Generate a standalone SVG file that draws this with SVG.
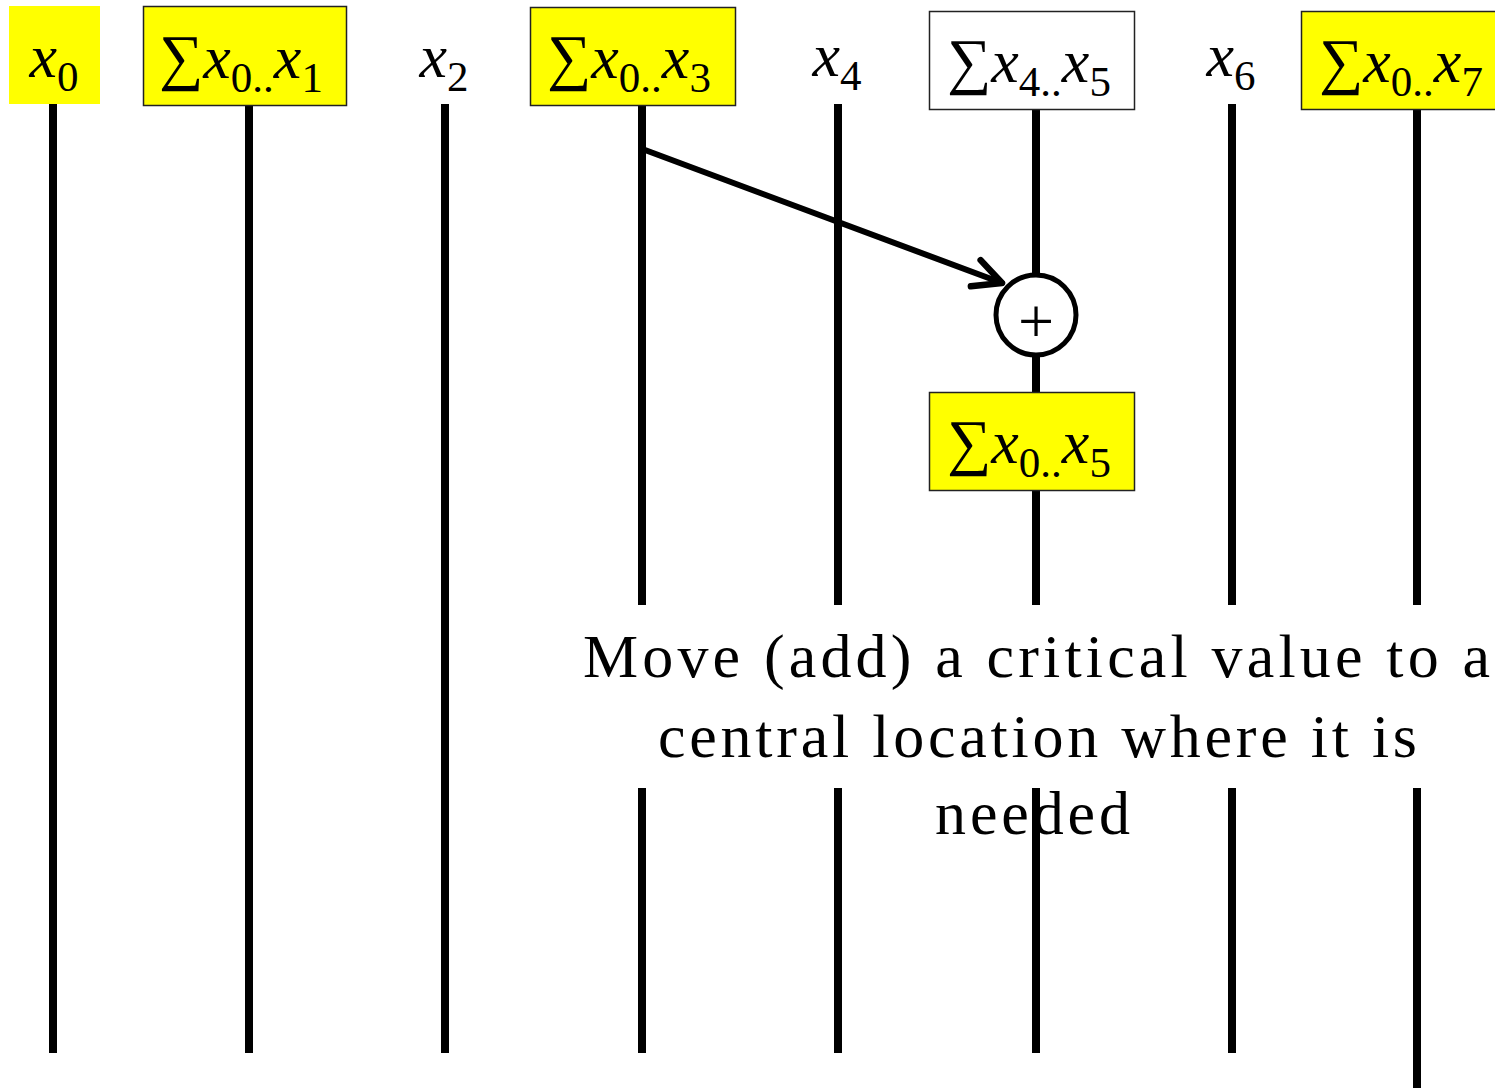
<svg xmlns="http://www.w3.org/2000/svg" width="1495" height="1088" viewBox="0 0 1495 1088">
<style>
.bg{fill:#ffffff}
.lane{stroke:#000;stroke-width:8;fill:none}
.box{fill:#ffff00;stroke:#222;stroke-width:1.5}
.wbox{fill:#ffffff;stroke:#222;stroke-width:1.5}
.lbl{font-family:"Liberation Serif","Times New Roman",serif;font-size:62px;fill:#000}
.v{font-style:italic;font-family:"Liberation Serif","Times New Roman",serif}
.s{font-size:43px;font-family:"Liberation Serif","Times New Roman",serif}
.note{font-family:"Liberation Serif","Times New Roman",serif;font-size:62px;fill:#000}
.conn{stroke:#000;stroke-width:6;fill:none;stroke-linecap:round}
</style>
<defs>
<marker id="open" markerUnits="userSpaceOnUse" viewBox="-34 -20 40 40" refX="0" refY="0" markerWidth="40" markerHeight="40" orient="auto">
<path d="M -28 -14 L 0 0 L -28 14" fill="none" stroke="#000" stroke-width="6.5" stroke-linecap="round" stroke-linejoin="round"/>
</marker>
</defs>
<rect class="bg" x="0" y="0" width="1495" height="1088"/>

<g id="lanes">
<line class="lane" x1="53" y1="104" x2="53" y2="1053"/>
<line class="lane" x1="249" y1="105" x2="249" y2="1053"/>
<line class="lane" x1="445" y1="104" x2="445" y2="1053"/>
<line class="lane" x1="642" y1="105" x2="642" y2="605"/>
<line class="lane" x1="642" y1="788" x2="642" y2="1053"/>
<line class="lane" x1="838" y1="104" x2="838" y2="605"/>
<line class="lane" x1="838" y1="788" x2="838" y2="1053"/>
<line class="lane" x1="1036" y1="109" x2="1036" y2="274"/>
<line class="lane" x1="1036" y1="355" x2="1036" y2="392"/>
<line class="lane" x1="1036" y1="490" x2="1036" y2="605"/>
<line class="lane" x1="1232" y1="104" x2="1232" y2="605"/>
<line class="lane" x1="1232" y1="788" x2="1232" y2="1053"/>
<line class="lane" x1="1417" y1="109" x2="1417" y2="605"/>
<line class="lane" x1="1417" y1="788" x2="1417" y2="1088"/>
</g>

<g id="n-x0">
<rect x="9" y="6" width="91" height="98" fill="#ffff00"/>
<text class="lbl" x="54" y="77" text-anchor="middle"><tspan class="v">x</tspan><tspan class="s" dy="14">0</tspan></text>
</g>

<g id="n-s01">
<rect class="box" x="143.5" y="6.5" width="203" height="99"/>
<text class="lbl" x="241" y="78" text-anchor="middle">∑<tspan class="v">x</tspan><tspan class="s" dy="14">0..</tspan><tspan class="v" dy="-14">x</tspan><tspan class="s" dy="14">1</tspan></text>
</g>

<g id="n-x2">
<text class="lbl" x="444" y="77" text-anchor="middle"><tspan class="v">x</tspan><tspan class="s" dy="14">2</tspan></text>
</g>

<g id="n-s03">
<rect class="box" x="530.5" y="7.5" width="205" height="98"/>
<text class="lbl" x="629" y="78" text-anchor="middle">∑<tspan class="v">x</tspan><tspan class="s" dy="14">0..</tspan><tspan class="v" dy="-14">x</tspan><tspan class="s" dy="14">3</tspan></text>
</g>

<g id="n-x4">
<text class="lbl" x="837" y="76" text-anchor="middle"><tspan class="v">x</tspan><tspan class="s" dy="14">4</tspan></text>
</g>

<g id="n-s45">
<rect class="wbox" x="929.5" y="11.5" width="205" height="98"/>
<text class="lbl" x="1029" y="82" text-anchor="middle">∑<tspan class="v">x</tspan><tspan class="s" dy="14">4..</tspan><tspan class="v" dy="-14">x</tspan><tspan class="s" dy="14">5</tspan></text>
</g>

<g id="n-x6">
<text class="lbl" x="1231" y="76" text-anchor="middle"><tspan class="v">x</tspan><tspan class="s" dy="14">6</tspan></text>
</g>

<g id="n-s07">
<rect class="box" x="1301.5" y="11.5" width="210" height="98"/>
<text class="lbl" x="1401" y="82" text-anchor="middle">∑<tspan class="v">x</tspan><tspan class="s" dy="14">0..</tspan><tspan class="v" dy="-14">x</tspan><tspan class="s" dy="14">7</tspan></text>
</g>

<g id="n-plus">
<circle cx="1036" cy="315" r="40" fill="#fff" stroke="#000" stroke-width="5"/>
<text x="1036" y="343" text-anchor="middle" font-family="Liberation Serif, serif" font-size="64" fill="#000">+</text>
</g>

<g id="n-s05">
<rect class="box" x="929.5" y="392.5" width="205" height="98"/>
<text class="lbl" x="1029" y="463" text-anchor="middle">∑<tspan class="v">x</tspan><tspan class="s" dy="14">0..</tspan><tspan class="v" dy="-14">x</tspan><tspan class="s" dy="14">5</tspan></text>
</g>

<g id="note">
<text class="note" x="583" y="677" textLength="907" lengthAdjust="spacing">Move (add) a critical value to a</text>
<text class="note" x="658" y="757" textLength="759" lengthAdjust="spacing">central location where it is</text>
<text class="note" x="935" y="834" textLength="195" lengthAdjust="spacing">needed</text>
</g>

<g id="connectors">
<line class="conn" x1="645" y1="150" x2="1002" y2="283" marker-end="url(#open)"/>
</g>

<line class="lane" x1="1036" y1="788" x2="1036" y2="1053"/>
</svg>
